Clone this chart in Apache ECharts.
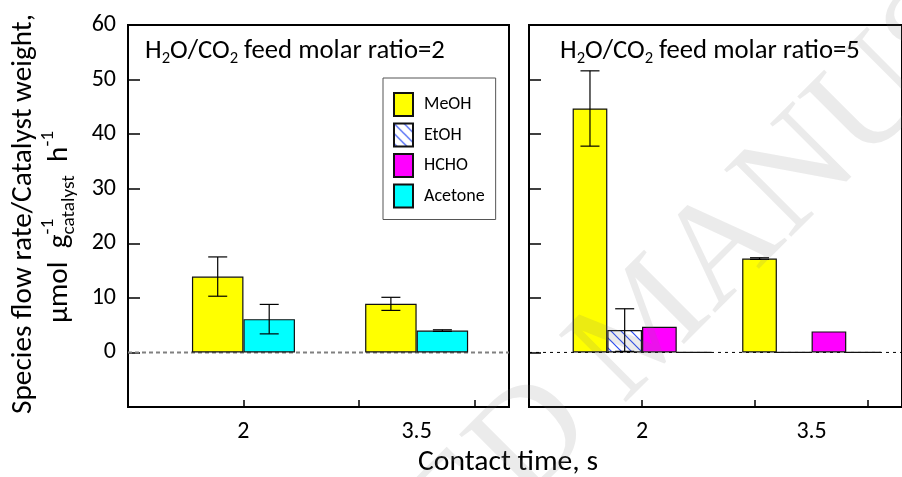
<!DOCTYPE html>
<html><head><meta charset="utf-8">
<script src="https://cdn.jsdelivr.net/npm/echarts@6/dist/echarts.min.js"></script>
<style>html,body{margin:0;padding:0;background:#fff}#c{width:902px;height:477px}</style>
</head><body><div id="c"></div>
<script>
// ---------- data ----------
const contactTime = [2, 3.5];          // s
const xTickMarks = [2, 3, 4];
const xLabelValues = [2, 3.5];
const yMin = -10, yMax = 60, yStep = 10;
const feedRatios = [2, 5];
const speciesNames = ['MeOH', 'EtOH', 'HCHO', 'Acetone'];

// H2O/CO2 = 2
const r2_MeOH = [13.9, 8.9];
const r2_MeOH_err = [3.6, 1.2];
const r2_Acetone = [6.1, 4.0];
const r2_Acetone_err = [2.7, 0.15];
// H2O/CO2 = 5
const r5_MeOH = [44.7, 17.2];
const r5_MeOH_err = [6.9, 0.15];
const r5_EtOH = [4.1, 0];
const r5_EtOH_err = [3.9, 0];
const r5_HCHO = [4.7, 3.85];
const r5_Acetone = [0, 0];

// ---------- style ----------
const FONT = 'Carlito, Lato, sans-serif';
const mctx = document.createElement('canvas').getContext('2d');
function tw(t, s) { mctx.font = s + 'px ' + FONT; return mctx.measureText(t).width; }

const pat = document.createElement('canvas');
pat.width = 10; pat.height = 10;
(function () {
  const c = pat.getContext('2d');
  c.fillStyle = '#fff'; c.fillRect(0, 0, 10, 10);
  c.strokeStyle = '#2b4cf2'; c.lineWidth = 1.2;
  c.beginPath();
  c.moveTo(-2, -2); c.lineTo(12, 12);
  c.moveTo(-2, 8); c.lineTo(2, 12);
  c.moveTo(8, -2); c.lineTo(12, 2);
  c.stroke();
})();
const colors = { MeOH: '#ffff00', EtOH: { image: pat, repeat: 'repeat' }, HCHO: '#ff00ff', Acetone: '#00ffff' };

// rich text line builder: parts {t, r (size ratio), dy (em of base), stack (no advance)}
function richParts(parts, base) {
  let x = 0; const out = [];
  parts.forEach(p => {
    const s = base * (p.r || 1);
    out.push({ t: p.t, s, x, dy: (p.dy || 0) * base });
    if (!p.stack) x += tw(p.t, s);
  });
  return { items: out, width: x };
}
function fitBase(parts, target) { return 20 * target / richParts(parts, 20).width; }
function toTexts(rp, x0, yc) {
  return rp.items.map(it => ({
    type: 'text', x: x0 + it.x, y: yc + it.dy, silent: true,
    style: { text: it.t, font: it.s + 'px ' + FONT, fill: '#000', align: 'left', verticalAlign: 'middle' }
  }));
}

const graphics = [];
// panel titles
const titleX = [145, 560];
feedRatios.forEach((r, i) => {
  const parts = [{ t: 'H' }, { t: '2', r: 0.62, dy: 0.3 }, { t: 'O/CO' }, { t: '2', r: 0.62, dy: 0.3 }, { t: ' feed molar ratio=' + r }];
  const base = fitBase(parts, 300);
  graphics.push(...toTexts(richParts(parts, base), titleX[i], 51));
});
// y axis name (rotated, reads bottom to top)
const yl1 = [{ t: 'Species flow rate/Catalyst weight,' }];
const yBase = fitBase(yl1, 400);
const yl2 = [{ t: 'μmol  g' }, { t: '-1', r: 0.66, dy: -0.42, stack: true }, { t: 'catalyst', r: 0.66, dy: 0.3 }, { t: '  h' }, { t: '-1', r: 0.66, dy: -0.42 }];
const rp1 = richParts(yl1, yBase), rp2 = richParts(yl2, yBase);
const yNameCY = 214, line2CY = 227;
graphics.push({
  type: 'group', x: 24, y: yNameCY, rotation: Math.PI / 2, silent: true,
  children: [...toTexts(rp1, -rp1.width / 2, 0), ...toTexts(rp2, (yNameCY - line2CY) - rp2.width / 2, 36)]
});
// x axis name
const xl = [{ t: 'Contact time, s' }];
const xBase = fitBase(xl, 180);
const rpx = richParts(xl, xBase);
graphics.push(...toTexts(rpx, 508 - rpx.width / 2, 463));
// watermark
const wmAng = 45 * Math.PI / 180;
const wmFont = '145px "Liberation Serif", serif';
const wmFill = 'rgba(120,120,120,0.15)';
graphics.push({ type: 'text', x: 596, y: 378, rotation: wmAng, z: 100, silent: true,
  style: { text: 'MANUSCRIPT', font: wmFont, fill: wmFill, align: 'left', verticalAlign: 'middle' } });
graphics.push({ type: 'text', x: 596, y: 378, rotation: wmAng, z: 100, silent: true,
  style: { text: 'ACCEPTED ', font: wmFont, fill: wmFill, align: 'right', verticalAlign: 'middle' } });

// ---------- series ----------
function barSeries(name, values, gi, bw) {
  return {
    type: 'bar', name, xAxisIndex: gi, yAxisIndex: gi, barWidth: bw, barGap: '0%', z: 2,
    data: contactTime.map((x, i) => [x, values[i]]),
    itemStyle: { color: colors[name], borderColor: '#111', borderWidth: 1.2 },
    emphasis: { disabled: true }
  };
}
function errSeries(values, errs, gi, offset) {
  return {
    type: 'custom', name: 'err', xAxisIndex: gi, yAxisIndex: gi, z: 5, silent: true,
    encode: { x: 0, y: 1 },
    data: contactTime.map((x, i) => [x, values[i], errs[i]]).filter(d => d[2] > 0),
    renderItem: (params, api) => {
      const x = api.value(0), y = api.value(1), e = api.value(2);
      const p1 = api.coord([x, y + e]), p2 = api.coord([x, y - e]);
      const cx = p1[0] + offset, h = 9.5;
      const st = { stroke: '#000', lineWidth: 1.2 };
      return { type: 'group', children: [
        { type: 'line', shape: { x1: cx, y1: p1[1], x2: cx, y2: p2[1] }, style: st },
        { type: 'line', shape: { x1: cx - h, y1: p1[1], x2: cx + h, y2: p1[1] }, style: st },
        { type: 'line', shape: { x1: cx - h, y1: p2[1], x2: cx + h, y2: p2[1] }, style: st }
      ] };
    }
  };
}
const xMin = 1, xMax = 4.3;
function zeroLine(gi, style) {
  return { type: 'line', name: 'zero', xAxisIndex: gi, yAxisIndex: gi, z: 1, silent: true, symbol: 'none',
    data: [[xMin, 0], [xMax, 0]], lineStyle: style };
}
const bw0 = 51.5, bw1 = 34.7;
const series = [
  zeroLine(0, { color: '#808080', width: 2, type: [4, 3] }),
  zeroLine(1, { color: '#000', width: 1, type: [3, 4] }),
  barSeries('MeOH', r2_MeOH, 0, bw0),
  barSeries('Acetone', r2_Acetone, 0, bw0),
  errSeries(r2_MeOH, r2_MeOH_err, 0, -bw0 / 2),
  errSeries(r2_Acetone, r2_Acetone_err, 0, bw0 / 2),
  barSeries('MeOH', r5_MeOH, 1, bw1),
  barSeries('EtOH', r5_EtOH, 1, bw1),
  barSeries('HCHO', r5_HCHO, 1, bw1),
  barSeries('Acetone', r5_Acetone, 1, bw1),
  errSeries(r5_MeOH, r5_MeOH_err, 1, -1.5 * bw1),
  errSeries(r5_EtOH, r5_EtOH_err, 1, -0.5 * bw1)
];

const gridDefs = [{ left: 128 }, { left: 529 }];
const option = {
  animation: false,
  backgroundColor: '#fff',
  grid: gridDefs.map(g => ({ left: g.left, top: 25, width: 381, height: 382, show: true, borderColor: '#000', borderWidth: 2, backgroundColor: 'transparent' })),
  xAxis: gridDefs.map((g, i) => ({
    type: 'value', gridIndex: i, min: xMin, max: xMax, position: 'bottom',
    splitLine: { show: false }, axisLine: { show: false, onZero: false },
    axisTick: { show: true, inside: true, length: 7, customValues: xTickMarks, lineStyle: { color: '#000', width: 1.5 } },
    axisLabel: { customValues: xLabelValues, formatter: v => String(v), margin: 13, color: '#000', fontSize: 24, fontFamily: FONT }
  })),
  yAxis: gridDefs.map((g, i) => ({
    type: 'value', gridIndex: i, min: yMin, max: yMax, interval: yStep,
    splitLine: { show: false }, axisLine: { show: false, onZero: false },
    axisTick: { show: true, inside: true, length: 12, lineStyle: { color: '#000', width: 1.5 } },
    axisLabel: { show: i === 0, formatter: v => (v < 0 ? '' : String(v)), margin: 12, color: '#000', fontSize: 24, fontFamily: FONT }
  })),
  legend: {
    data: speciesNames, orient: 'vertical', left: 383, top: 78, itemWidth: 19, itemHeight: 23, itemGap: 5.5,
    padding: [14, 11, 11, 10], borderColor: '#555', borderWidth: 1, selectedMode: false, icon: 'rect',
    textStyle: { fontSize: 18, lineHeight: 20, fontFamily: FONT, color: '#000', padding: [0, 0, 0, 6] }
  },
  graphic: graphics,
  series
};
const chart = echarts.init(document.getElementById('c'), null, { renderer: 'canvas' });
chart.setOption(option);
</script>
</body></html>
